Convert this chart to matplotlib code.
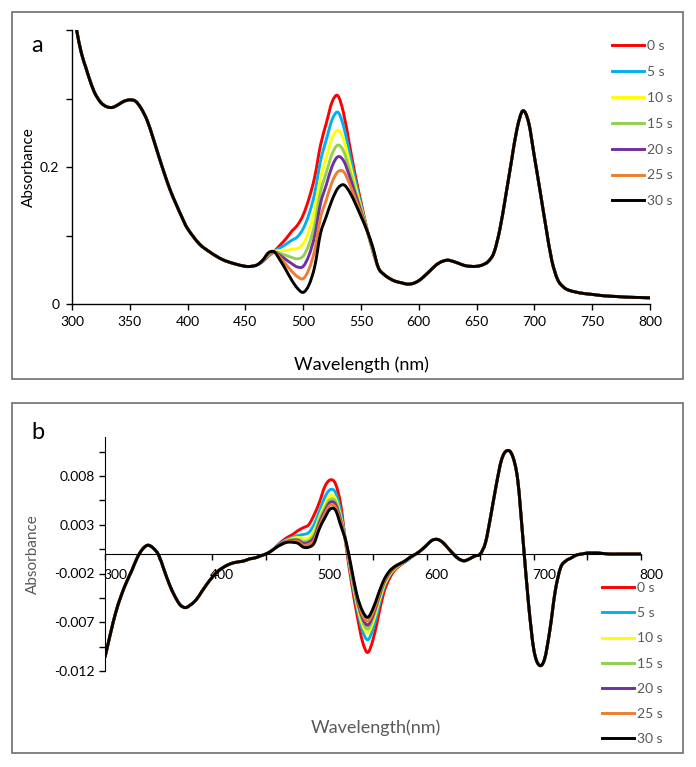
import matplotlib
matplotlib.use("Agg")
import matplotlib.pyplot as plt
import matplotlib.transforms as mtrans
from matplotlib.patches import Rectangle, PathPatch
from matplotlib.path import Path

plt.rcParams['font.family'] = ['Lato', 'DejaVu Sans']

times = ['0 s', '5 s', '10 s', '15 s', '20 s', '25 s', '30 s']
colors = ['#FF0000', '#00B0F0', '#FFFF00', '#92D050', '#7030A0', '#ED7D31', '#000000']
gray = '#595959'

# ---- panel a : absorbance ----
wl_a_left = [300, 304, 308, 312, 316, 320, 325, 330, 335, 340, 345, 350, 355, 360,
             365, 370, 375, 380, 385, 390, 395, 400, 410, 420, 430, 440, 450, 455]
abs_a_left = [0.44, 0.400, 0.367, 0.345, 0.324, 0.307, 0.294, 0.288, 0.287, 0.291,
              0.296, 0.298, 0.296, 0.285, 0.268, 0.243, 0.216, 0.190, 0.166, 0.146,
              0.127, 0.110, 0.088, 0.075, 0.065, 0.059, 0.055, 0.055]

wl_a_mid = list(range(460, 570, 5))
a_0s = [.057, .062, .070, .077, .086, .095, .106, .115, .130, .154, .186, .232, .264, .295, .304, .278, .233, .188, .149, .111, .078, .053]
a_5s = [.057, .062, .071, .077, .082, .087, .093, .098, .110, .131, .162, .209, .240, .269, .280, .259, .221, .181, .145, .110, .079, .053]
a_10s = [.057, .063, .072, .077, .078, .078, .080, .081, .088, .107, .138, .184, .214, .242, .254, .240, .207, .173, .141, .110, .080, .053]
a_15s = [.057, .063, .073, .076, .074, .071, .068, .066, .070, .087, .117, .164, .192, .219, .232, .223, .196, .166, .138, .109, .081, .053]
a_20s = [.057, .063, .073, .076, .071, .065, .059, .054, .055, .071, .100, .147, .174, .201, .215, .209, .187, .161, .135, .109, .082, .053]
a_25s = [.057, .064, .074, .076, .068, .058, .048, .040, .037, .051, .079, .126, .152, .178, .193, .193, .176, .154, .132, .108, .083, .053]
a_30s = [.057, .064, .075, .076, .064, .050, .035, .023, .017, .028, .055, .103, .128, .152, .169, .174, .164, .147, .128, .108, .084, .053]
a_mid = [a_0s, a_5s, a_10s, a_15s, a_20s, a_25s, a_30s]

wl_a_right = [570, 575, 580, 585, 590, 595, 600, 605, 610, 615, 620, 625, 630, 635,
              640, 645, 650, 655, 660, 665, 670, 675, 680, 685, 690, 695, 700, 705,
              710, 715, 720, 725, 730, 740, 750, 760, 770, 780, 790, 800]
abs_a_right = [.043, .037, .033, .031, .029, .030, .034, .041, .049, .057, .062, .064,
               .062, .059, .056, .055, .055, .057, .062, .075, .108, .156, .207, .256,
               .282, .265, .215, .164, .112, .064, .036, .025, .020, .016, .014, .012,
               .011, .010, .0095, .009]

# ---- panel b : difference spectra ----
wl_b_left = list(range(300, 455, 5))
abs_b_left = [-.0106, -.0082, -.0060, -.0043, -.0029, -.0017, -.0004, .0005, .0009, .0006,
              -.0001, -.0016, -.0031, -.0043, -.0052, -.0055, -.0052, -.0047, -.0039, -.0031,
              -.0024, -.0018, -.0014, -.0011, -.0009, -.0008, -.0007, -.0005, -.0004, -.0002, .0000]

wl_b_mid = list(range(455, 595, 5))
b_0s = [.0003, .0008, .0013, .0017, .0020, .0024, .0027, .0030, .0040, .0053, .0069, .0076, .0072, .0050,
        .0007, -.0030, -.0062, -.0089, -.0101, -.0088, -.0064, -.0040, -.0026, -.0017, -.0012, -.0008, -.0004, .0000]
b_5s = [.0003, .0008, .0012, .0015, .0017, .0019, .0020, .0022, .0030, .0044, .0058, .0066, .0063, .0043,
        .0009, -.0025, -.0055, -.0078, -.0088, -.0077, -.0056, -.0035, -.0023, -.0016, -.0011, -.0008, -.0004, .0000]
b_10s = [.0003, .0007, .0011, .0014, .0016, .0017, .0016, .0017, .0024, .0038, .0051, .0060, .0057, .0038,
         .0010, -.0022, -.0051, -.0072, -.0081, -.0070, -.0051, -.0033, -.0022, -.0015, -.0011, -.0007, -.0003, .0000]
b_15s = [.0003, .0007, .0011, .0014, .0015, .0015, .0013, .0014, .0020, .0035, .0047, .0056, .0054, .0036,
         .0010, -.0020, -.0048, -.0068, -.0077, -.0066, -.0048, -.0031, -.0021, -.0014, -.0011, -.0007, -.0003, .0000]
b_20s = [.0003, .0007, .0011, .0013, .0014, .0014, .0011, .0012, .0017, .0032, .0044, .0053, .0051, .0034,
         .0011, -.0018, -.0046, -.0065, -.0073, -.0063, -.0046, -.0030, -.0020, -.0014, -.0010, -.0007, -.0003, .0000]
b_25s = [.0003, .0007, .0010, .0013, .0013, .0013, .0009, .0010, .0014, .0029, .0041, .0050, .0048, .0032,
         .0011, -.0017, -.0044, -.0062, -.0069, -.0060, -.0044, -.0029, -.0019, -.0013, -.0010, -.0007, -.0003, .0000]
b_30s = [.0003, .0007, .0010, .0012, .0012, .0011, .0007, .0007, .0011, .0026, .0037, .0046, .0045, .0029,
         .0012, -.0015, -.0042, -.0058, -.0065, -.0056, -.0041, -.0027, -.0018, -.0013, -.0010, -.0007, -.0003, .0000]
b_mid = [b_0s, b_5s, b_10s, b_15s, b_20s, b_25s, b_30s]

wl_b_right = [595, 600, 605, 610, 615, 620, 625, 630, 635, 640, 645, 650, 655, 660, 665,
              670, 675, 680, 685, 690, 695, 700, 705, 710, 715, 720, 725, 730, 735, 740,
              745, 750, 755, 760, 770, 780, 790, 800]
abs_b_right = [.0004, .0009, .0014, .0015, .0012, .0006, .0000, -.0005, -.0007, -.0005,
               -.0002, .0000, .0012, .0040, .0071, .0097, .0106, .0101, .0076, .0014,
               -.0050, -.0098, -.0114, -.0108, -.0078, -.0038, -.0014, -.0007, -.0004, -.0001,
               .0000, .0001, .0001, .0001, .0000, .0000, .0000, .0000]

W, H = 696, 767
fig = plt.figure(figsize=(W / 100, H / 100), dpi=100)


def fbox(x0, y0, x1, y1):
    # pixel box (top-left origin) -> figure fraction rect
    return [x0 / W, 1 - y1 / H, (x1 - x0) / W, (y1 - y0) / H]


def smooth_line(ax, x, y, color, label):
    # Excel-style smoothed line: bezier segments through the data points
    pts = list(zip(x, y))
    n = len(pts)
    verts = [pts[0]]
    codes = [Path.MOVETO]
    for i in range(n - 1):
        p0 = pts[max(i - 1, 0)]
        p1 = pts[i]
        p2 = pts[i + 1]
        p3 = pts[min(i + 2, n - 1)]
        c1 = (p1[0] + (p2[0] - p0[0]) / 6, p1[1] + (p2[1] - p0[1]) / 6)
        c2 = (p2[0] - (p3[0] - p1[0]) / 6, p2[1] - (p3[1] - p1[1]) / 6)
        verts += [c1, c2, p2]
        codes += [Path.CURVE4] * 3
    ax.add_patch(PathPatch(Path(verts, codes), fill=False, edgecolor=color, lw=2.1,
                           joinstyle='round', capstyle='butt'))
    ax.plot([], [], color=color, lw=2.1, label=label)


for (x0, y0, x1, y1) in [(12, 12, 683, 379), (12, 403, 683, 753)]:
    r = fbox(x0, y0, x1, y1)
    fig.patches.append(Rectangle((r[0], r[1]), r[2], r[3], transform=fig.transFigure,
                                 fill=False, edgecolor='#6e6e6e', lw=1.2))

# ---------------- panel a ----------------
axa = fig.add_axes(fbox(72, 30, 650, 304))
for i, t in enumerate(times):
    smooth_line(axa, wl_a_left + wl_a_mid + wl_a_right, abs_a_left + a_mid[i] + abs_a_right,
                colors[i], t)
axa.set_xlim(300, 800)
axa.set_ylim(0, 0.4)
axa.set_xticks(range(300, 801, 50))
axa.set_yticks([0, 0.2])
axa.set_yticklabels(['0', '0.2'])
axa.set_yticks([0.1, 0.3, 0.4], minor=True)
for s in ['top', 'right']:
    axa.spines[s].set_visible(False)
for s in ['left', 'bottom']:
    axa.spines[s].set_linewidth(1)
axa.tick_params(which='both', direction='out', length=4, width=1, labelsize=10, pad=5)
axa.set_xlabel('Wavelength (nm)', fontsize=13)
axa.xaxis.set_label_coords(0.5, -0.19)
axa.set_ylabel('Absorbance', fontsize=11)
axa.yaxis.set_label_coords(-0.062, 0.5)
axa.legend(loc='upper left', bbox_to_anchor=(612 / W, 1 - 40 / H), bbox_transform=fig.transFigure,
           frameon=False, fontsize=10, handlelength=2.3, handletextpad=0.25,
           labelspacing=1.0, borderpad=0, borderaxespad=0, labelcolor=gray)
fig.text(37 / W, 1 - 45 / H, 'a', fontsize=17, ha='center', va='center')

# ---------------- panel b ----------------
axb = fig.add_axes(fbox(105, 437, 641, 671))
for i, t in enumerate(times):
    smooth_line(axb, wl_b_left + wl_b_mid + wl_b_right, abs_b_left + b_mid[i] + abs_b_right,
                colors[i], t)
axb.set_xlim(300, 800)
axb.set_ylim(-0.012, 0.012)
axb.spines['bottom'].set_position(('data', 0))
for s in ['top', 'right']:
    axb.spines[s].set_visible(False)
axb.set_xticks(range(300, 801, 100))
axb.set_xticklabels([str(v) for v in range(300, 801, 100)])
axb.set_xticks(range(350, 800, 100), minor=True)
yt = [-0.012, -0.007, -0.002, 0.003, 0.008]
axb.set_yticks(yt)
axb.set_yticklabels(['-0.012', '-0.007', '-0.002', '0.003', '0.008'])
axb.set_yticks([-0.0095, -0.0045, 0.0005, 0.0055, 0.0105], minor=True)
axb.tick_params(which='both', direction='out', length=4, width=1, labelsize=10)
axb.tick_params(axis='x', pad=7)
shift = mtrans.ScaledTranslation(10 / 100, 0, fig.dpi_scale_trans)
for lab in axb.get_xticklabels():
    lab.set_transform(lab.get_transform() + shift)
axb.set_xlabel('Wavelength(nm)', fontsize=13, color=gray)
axb.xaxis.set_label_coords(0.506, -0.205)
axb.set_ylabel('Absorbance', fontsize=11, color=gray)
axb.yaxis.set_label_coords(-0.121, 0.5)
axb.legend(loc='upper left', bbox_to_anchor=(602 / W, 1 - 582 / H), bbox_transform=fig.transFigure,
           frameon=False, fontsize=10, handlelength=2.3, handletextpad=0.25,
           labelspacing=0.95, borderpad=0, borderaxespad=0, labelcolor=gray)
fig.text(38 / W, 1 - 433 / H, 'b', fontsize=17, ha='center', va='center')

fig.savefig('out.png', dpi=100)
